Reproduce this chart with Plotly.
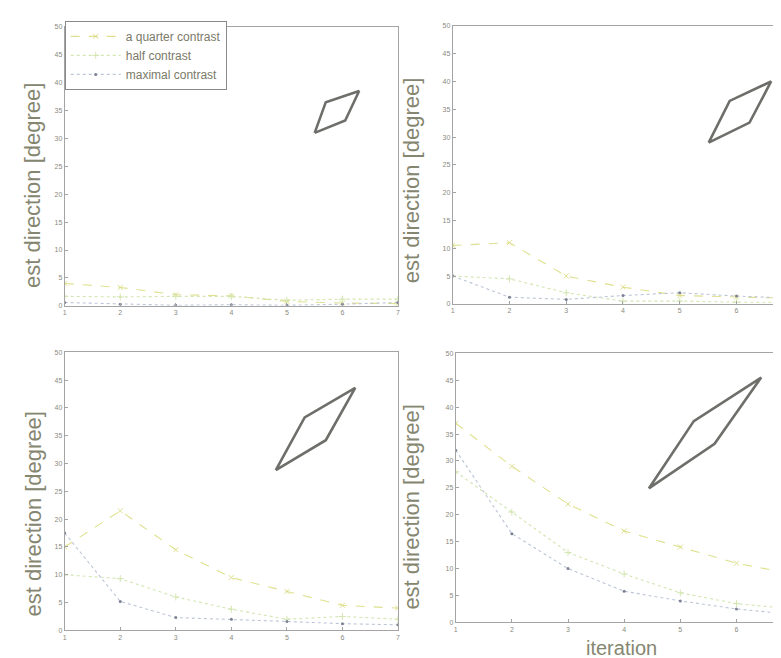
import plotly.graph_objects as go

iterations = [1, 2, 3, 4, 5, 6, 7]

# panel values (est direction in degrees)
tl_quarter = [4.0, 3.3, 2.0, 1.8, 0.8, 0.5, 0.4]
tl_half = [1.7, 1.6, 1.7, 1.7, 1.0, 1.2, 1.2]
tl_max = [0.6, 0.3, 0.1, 0.2, 0.1, 0.3, 0.6]

tr_quarter = [10.5, 11.0, 5.0, 3.0, 1.5, 1.2, 1.0]
tr_half = [5.0, 4.5, 2.0, 0.5, 0.5, 0.3, 0.3]
tr_max = [5.0, 1.2, 0.8, 1.5, 2.0, 1.4, 1.0]

bl_quarter = [15.0, 21.5, 14.5, 9.5, 7.0, 4.5, 4.0]
bl_half = [10.0, 9.3, 6.0, 3.8, 2.0, 2.5, 2.0]
bl_max = [17.5, 5.2, 2.3, 2.0, 1.6, 1.2, 1.0]

br_quarter = [37.0, 29.0, 22.0, 17.0, 14.0, 11.0, 9.0]
br_half = [28.0, 20.5, 13.0, 9.0, 5.5, 3.5, 2.5]
br_max = [32.0, 16.5, 10.0, 5.8, 4.0, 2.5, 1.5]

# parallelogram stimulus outlines (data coords)
tl_shape_x = [5.5, 5.7, 6.3, 6.05, 5.5]
tl_shape_y = [31.0, 36.5, 38.5, 33.2, 31.0]
tr_shape_x = [5.51, 5.88, 6.61, 6.23, 5.51]
tr_shape_y = [29.0, 36.5, 40.0, 32.6, 29.0]
bl_shape_x = [4.8, 5.32, 6.23, 5.7, 4.8]
bl_shape_y = [28.8, 38.3, 43.6, 34.2, 28.8]
br_shape_x = [4.44, 5.24, 6.44, 5.61, 4.44]
br_shape_y = [24.9, 37.4, 45.5, 33.2, 24.9]

series_names = ["a quarter contrast", "half contrast", "maximal contrast"]
y_ticks = [0, 5, 10, 15, 20, 25, 30, 35, 40, 45, 50]
x_ticks = [1, 2, 3, 4, 5, 6, 7]

c_quarter = "#dfe08e"
c_half = "#d3e6b2"
c_max_line = "#bcc5d6"
c_max_marker = "#7d8294"
c_text = "#858670"
c_axis = "#a4a4a4"

W, H = 781, 658
panels = [
    ("x", "y", (55, 390), (15, 297), 7.0, (tl_quarter, tl_half, tl_max), (tl_shape_x, tl_shape_y)),
    ("x2", "y2", (445, 781), (14, 295), 6.89, (tr_quarter, tr_half, tr_max), (tr_shape_x, tr_shape_y)),
    ("x3", "y3", (55, 390), (344, 625), 7.0, (bl_quarter, bl_half, bl_max), (bl_shape_x, bl_shape_y)),
    ("x4", "y4", (448, 781), (345, 617), 6.9, (br_quarter, br_half, br_max), (br_shape_x, br_shape_y)),
]

fig = go.Figure()
layout = {}
for i, (xa, ya, xpx, ypx, xmax, data, shape) in enumerate(panels):
    q, h, m = data
    first = i == 0
    fig.add_trace(go.Scatter(x=iterations, y=q, xaxis=xa, yaxis=ya, name=series_names[0],
                             mode="lines+markers", showlegend=first,
                             line=dict(color=c_quarter, width=1.1, dash="dash"),
                             marker=dict(symbol="x-thin-open", size=5, line=dict(color=c_quarter, width=1))))
    fig.add_trace(go.Scatter(x=iterations, y=h, xaxis=xa, yaxis=ya, name=series_names[1],
                             mode="lines+markers", showlegend=first,
                             line=dict(color=c_half, width=1.1, dash="dot"),
                             marker=dict(symbol="cross-thin-open", size=5, line=dict(color=c_half, width=1))))
    fig.add_trace(go.Scatter(x=iterations, y=m, xaxis=xa, yaxis=ya, name=series_names[2],
                             mode="lines+markers", showlegend=first,
                             line=dict(color=c_max_line, width=1.1, dash="dot"),
                             marker=dict(symbol="circle", size=3, color=c_max_marker)))
    fig.add_trace(go.Scatter(x=shape[0], y=shape[1], xaxis=xa, yaxis=ya, mode="lines",
                             showlegend=False, hoverinfo="skip",
                             line=dict(color="#6e6e6a", width=2.6)))
    sfx = "" if i == 0 else str(i + 1)
    layout["xaxis" + sfx] = dict(
        domain=[xpx[0] / W, xpx[1] / W], range=[1, xmax], anchor=ya,
        tickvals=x_ticks, ticks="inside", ticklen=3, tickcolor=c_axis,
        showline=True, linecolor=c_axis, linewidth=1, mirror=True,
        showgrid=False, zeroline=False,
        tickfont=dict(size=7, color="#8a8a80", family="Arial, Liberation Sans"))
    layout["yaxis" + sfx] = dict(
        domain=[1 - ypx[1] / H, 1 - ypx[0] / H], range=[0, 50], anchor=xa,
        tickvals=y_ticks, ticks="inside", ticklen=3, tickcolor=c_axis,
        showline=True, linecolor=c_axis, linewidth=1, mirror=True,
        showgrid=False, zeroline=False,
        tickfont=dict(size=7, color="#8a8a80", family="Arial, Liberation Sans"))

annotations = []
label_pos = [(22, 175), (403, 170), (24, 507), (404, 500)]
for (lx, ly) in label_pos:
    annotations.append(dict(text="est direction [degree]", x=lx / W, y=1 - ly / H,
                            xref="paper", yref="paper", showarrow=False, textangle=-90,
                            xanchor="center", yanchor="middle",
                            font=dict(size=22, color=c_text, family="Arial, Liberation Sans")))
annotations.append(dict(text="iteration", x=615 / W, y=2 / H, xref="paper", yref="paper",
                        showarrow=False, xanchor="center", yanchor="bottom",
                        font=dict(size=20, color=c_text, family="Arial, Liberation Sans")))

fig.update_layout(
    width=W, height=H,
    margin=dict(l=0, r=0, t=0, b=0),
    paper_bgcolor="white", plot_bgcolor="white",
    annotations=annotations,
    legend=dict(x=55 / W, y=1 - 9 / H, xanchor="left", yanchor="top",
                bgcolor="white", bordercolor="#8a8a8a", borderwidth=1,
                font=dict(size=12, color="#7a7a68", family="Arial, Liberation Sans"),
                tracegroupgap=0, itemwidth=50),
    **layout,
)

fig.write_html("out.html")
